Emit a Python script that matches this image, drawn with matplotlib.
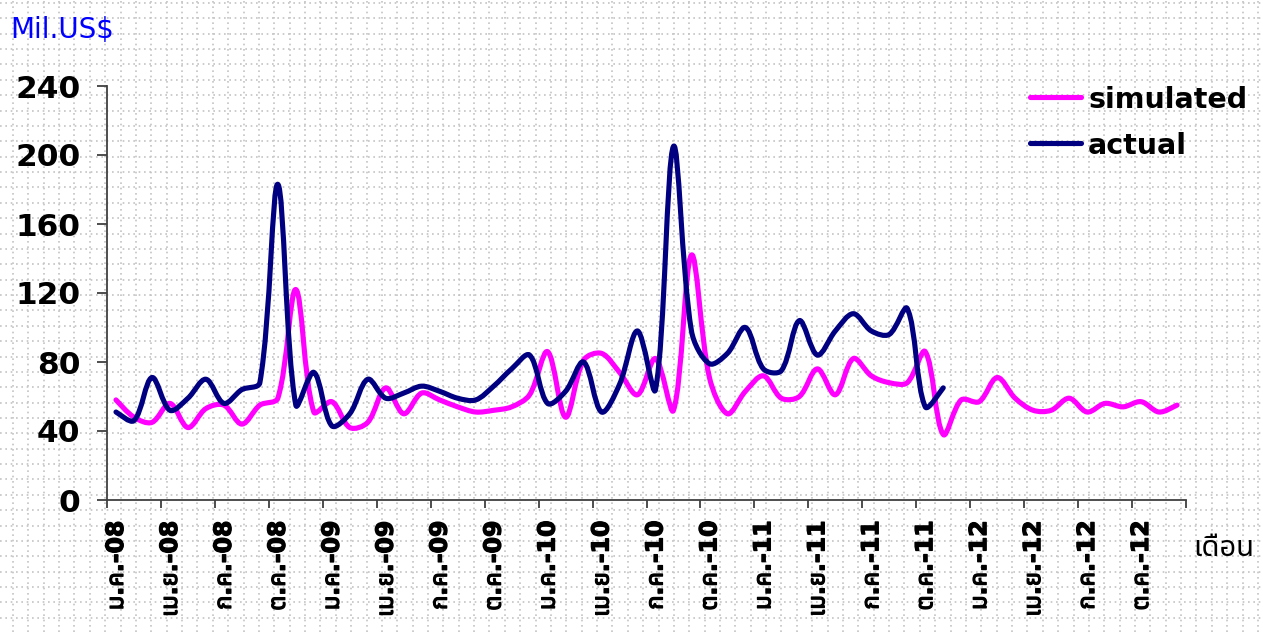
import matplotlib
matplotlib.use("Agg")
import matplotlib.pyplot as plt
from matplotlib.lines import Line2D
from matplotlib.path import Path
from matplotlib.patches import PathPatch
from matplotlib import font_manager as fm
from matplotlib import patheffects as pe
from matplotlib.ft2font import FT2Font
import numpy as np

# ---------------- data ----------------
month_names = ["ม.ค.", "เม.ย.", "ก.ค.", "ต.ค."]
years = ["08", "09", "10", "11", "12"]
tick_labels = [f"{m}-{y}" for y in years for m in month_names]

simulated = [58, 48, 45, 56, 42, 53, 55, 44, 55, 59,
             122, 51, 57, 42, 45, 65, 50, 62, 58, 54,
             51, 52, 54, 61, 86, 48, 81, 85, 74, 61,
             82, 52, 142, 71, 50, 63, 72, 59, 60, 76,
             61, 82, 72, 68, 68, 86, 38, 58, 57, 71,
             59, 52, 52, 59, 51, 56, 54, 57, 51, 55]
actual = [51, 46, 71, 52, 59, 70, 56, 64, 68, 183,
          55, 74, 43, 50, 70, 59, 62, 66, 63, 59,
          58, 66, 76, 84, 56, 63, 80, 51, 67, 98,
          64, 205, 98, 79, 85, 100, 76, 75, 104, 84,
          98, 108, 98, 96, 111, 54, 65]
yticks = [0, 40, 80, 120, 160, 200, 240]

# ---------------- fonts ----------------
def find_thai_font():
    preferred = ["Noto Sans Thai", "Noto Sans Thai UI", "Loma", "Tlwg Typo", "Garuda",
                 "Kinnari", "Norasi", "Sawasdee", "Umpush", "Waree", "Laksaman"]
    found = []
    for f in fm.fontManager.ttflist:
        try:
            cm = FT2Font(f.fname).get_charmap()
        except Exception:
            continue
        if 0x0E21 in cm and 0x0E14 in cm:
            found.append(f.name)
    for p in preferred:
        if p in found:
            return p
    return found[0] if found else None

thai = find_thai_font()
fam_thai_first = [thai, "DejaVu Sans"] if thai else ["DejaVu Sans"]
fam_latin_first = ["DejaVu Sans", thai] if thai else ["DejaVu Sans"]

W, H = 1263, 632
fig = plt.figure(figsize=(W / 100, H / 100), dpi=100)
fig.patch.set_facecolor("white")

# dotted background grid over the whole figure
step = 15.37
for k in range(int(H / step) + 2):
    yy = 3 + step * k
    fig.add_artist(Line2D([0, 1], [1 - yy / H, 1 - yy / H], transform=fig.transFigure,
                          color="#c4c4c4", lw=1.2, dashes=(1, 2.2), zorder=0))
for k in range(int(W / step) + 2):
    xx = 13 + step * k
    fig.add_artist(Line2D([xx / W, xx / W], [0, 1], transform=fig.transFigure,
                          color="#c4c4c4", lw=1.2, dashes=(1, 2.2), zorder=0))

L, R, T, B = 107, 1186, 86, 500
ax = fig.add_axes([L / W, 1 - B / H, (R - L) / W, (B - T) / H])
ax.set_facecolor("none")
ax.set_xlim(-0.5, 59.5)
ax.set_ylim(0, 240)


def smooth_patch(x, y, color):
    """Excel-like smoothed line: cubic Bezier with chord-length weighted tangents."""
    x = np.asarray(x, float)
    y = np.asarray(y, float)
    pts = np.column_stack([x, y])
    disp = ax.transData.transform(pts)
    n = len(x)
    t = 1.0 / 3.0

    def d(a, b):
        return max(np.hypot(*(disp[b] - disp[a])), 1e-9)

    verts = [tuple(pts[0])]
    codes = [Path.MOVETO]
    for i in range(n - 1):
        i0, i3 = max(i - 1, 0), min(i + 2, n - 1)
        d01, d12, d23 = d(i0, i), d(i, i + 1), d(i + 1, i3)
        if i0 == i:
            d01 = d12
        if i3 == i + 1:
            d23 = d12
        c1 = pts[i] + (pts[i + 1] - pts[i0]) * t * d12 / (d01 + d12)
        c2 = pts[i + 1] - (pts[i3] - pts[i]) * t * d12 / (d12 + d23)
        verts += [tuple(c1), tuple(c2), tuple(pts[i + 1])]
        codes += [Path.CURVE4] * 3
    p = PathPatch(Path(verts, codes), fill=False, edgecolor=color, lw=3.7,
                  capstyle="round", joinstyle="round", zorder=3)
    ax.add_patch(p)


smooth_patch(np.arange(len(simulated)), simulated, "#FF00FF")
smooth_patch(np.arange(len(actual)), actual, "#000080")

for s in ["top", "right"]:
    ax.spines[s].set_visible(False)
for s in ["left", "bottom"]:
    ax.spines[s].set_color("#404040")
    ax.spines[s].set_linewidth(1.3)

ax.set_yticks(yticks)
ax.set_yticklabels([str(v) for v in yticks], fontsize=22.5, fontweight="bold",
                   family="DejaVu Sans")
ax.tick_params(axis="y", length=7.2, width=1.3, color="#404040", pad=12)

ax.set_xticks(np.arange(-0.5, 60, 3))
ax.set_xticklabels([])
ax.set_xticks(np.arange(0, 60, 3), minor=True)
xlabels = ax.set_xticklabels(tick_labels, minor=True, rotation=90, fontsize=17,
                             fontweight="bold", family=fam_latin_first,
                             va="top", ha="center")
for lbl in xlabels:
    lbl.set_path_effects([pe.withStroke(linewidth=0.9, foreground="black")])
ax.tick_params(axis="x", which="major", length=6, width=1.3, color="#404040")
ax.tick_params(axis="x", which="minor", length=0, pad=15)

fig.text(10 / W, 1 - 30 / H, "Mil.US$", color="#0000FF", fontsize=20,
         family="DejaVu Sans", va="center", ha="left")
fig.text(1193 / W, 1 - 548 / H, "เดือน", color="black", fontsize=21,
         family=fam_thai_first, va="center", ha="left")

# legend
for yy, col, lab in [(97, "#FF00FF", "simulated"), (143, "#000080", "actual")]:
    fig.add_artist(Line2D([1030 / W, 1081 / W], [1 - yy / H, 1 - yy / H],
                          transform=fig.transFigure, color=col, lw=3.7,
                          solid_capstyle="round", zorder=4))
    fig.text(1088 / W, 1 - (yy + 3) / H, lab, fontsize=20.5, fontweight="bold",
             family="DejaVu Sans", va="center", ha="left")

fig.savefig("out.png", dpi=100)
